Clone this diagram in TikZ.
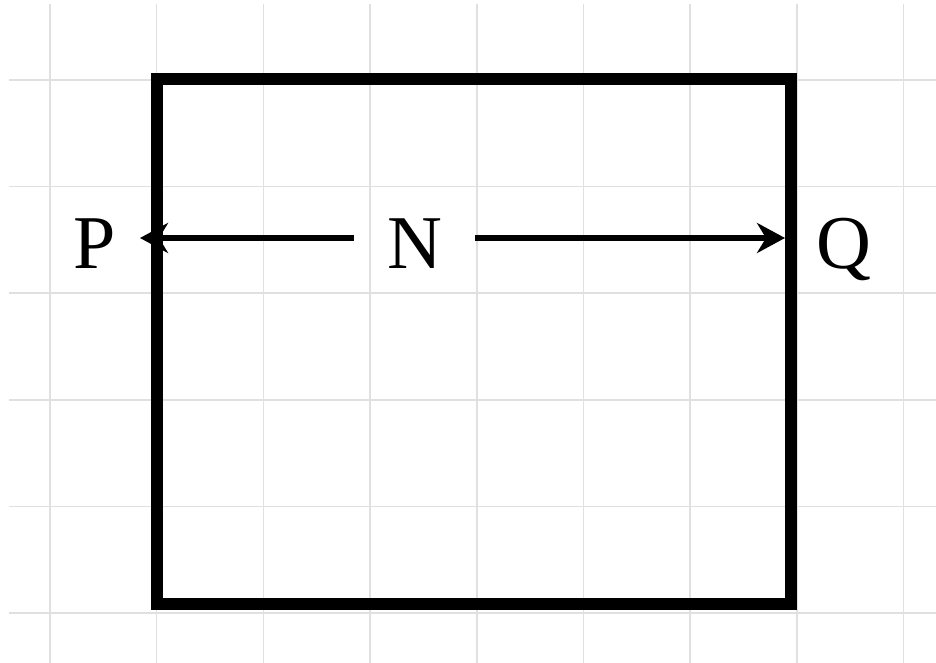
\documentclass[tikz,border=0pt]{standalone}
\usepackage{fontspec}
\setmainfont{Liberation Serif}
\usetikzlibrary{arrows.meta}

\begin{document}
\begin{tikzpicture}[x=0.5pt, y=-0.5pt,
  gridline/.style={draw=black!12, line width=0.75pt},
  arr/.style={-{Stealth[length=14pt, width=15pt, inset=4.5pt]}, line width=3pt},
  lbl/.style={anchor=base, inner sep=0pt, font=\fontsize{38}{40}\selectfont}]
\useasboundingbox (0,0) rectangle (936,663);
% background grid
\foreach \k in {0,...,8} \draw[gridline] ({50+106.7*\k},4) -- ({50+106.7*\k},663);
\foreach \k in {0,...,5} \draw[gridline] (9,{80+106.6*\k}) -- (936,{80+106.6*\k});
% region and points
\node[draw, line width=6pt, minimum width=317pt, minimum height=262.5pt, inner sep=0pt] (box) at (474,341.5) {};
\node[lbl, minimum width=60.5pt] (N) at (414.5,268) {N};
\node[lbl] (P) at (95,268) {P};
\node[lbl] (Q) at (844,268) {Q};
\coordinate (pl) at (140,238);
\coordinate (qr) at (785,238);
\draw[arr] (N.west |- pl) -- (pl);
\draw[arr] (N.east |- qr) -- (qr);
\end{tikzpicture}
\end{document}
